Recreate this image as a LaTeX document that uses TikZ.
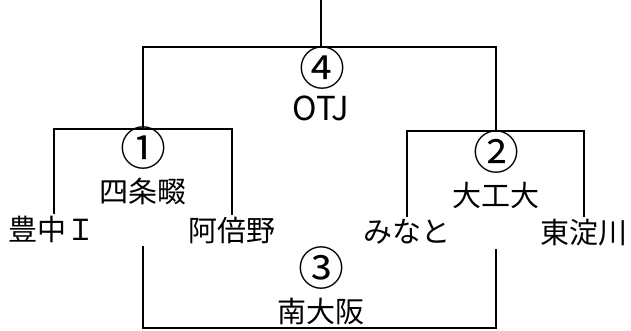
\documentclass[tikz,border=0pt]{standalone}
\usepackage{fontspec}
\setmainfont{Noto Sans CJK JP}
\usetikzlibrary{positioning}
\begin{document}
\begin{tikzpicture}[x=1pt,y=-1pt,line width=2.2pt,
  team/.style={inner sep=1pt,font=\fontsize{29}{30}\selectfont},
  seed/.style={inner sep=0pt,font=\fontsize{46}{46}\selectfont},
  win/.style={inner sep=1pt,font=\fontsize{29}{30}\selectfont}]
\useasboundingbox (0,0) rectangle (631,331);
% teams
\node[team] (toyonaka) at (52,229) {豊中Ｉ};
\node[team] (abeno)    at (232,230) {阿倍野};
\node[team] (minato)   at (407,232) {みなと};
\node[team] (higashi)  at (584,233) {東淀川};
% bracket points
\coordinate (sf1)   at (143,129);
\coordinate (sf2)   at (496,131);
\coordinate (top)   at (321,47);
\coordinate (champ) at (321,0);
\coordinate (l3)    at (143,246);
\coordinate (r3)    at (496,249);
\coordinate (bot)   at (321,328);
\draw ([xshift=2pt]toyonaka.north) |- (sf1) -| (abeno.north);
\draw (minato.north) |- (sf2) -| (higashi.north);
\draw (sf1) |- (top) -| (sf2);
\draw (champ) -- (top);
\draw (l3) |- (bot) -| (r3);
% results
\node[seed] (g4) at (322,68) {④};
\node[win,font=\fontsize{33}{33}\selectfont] (w4) at (321,108) {OTJ};
\node[seed] (g1) at (143,148) {①};
\node[win]  (w1) at (143,191) {四条畷};
\node[seed] (g2) at (496,152) {②};
\node[win]  (w2) at (496,195) {大工大};
\node[seed] (g3) at (321,268) {③};
\node[win]  (w3) at (321,311) {南大阪};
\end{tikzpicture}
\end{document}
